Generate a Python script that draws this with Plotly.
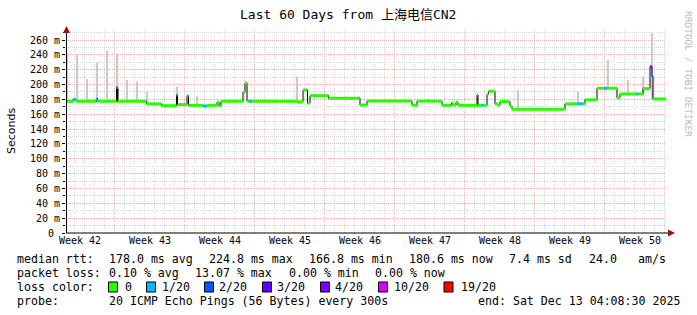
import plotly.graph_objects as go

# ---------------- data ----------------
title_text = "Last 60 Days from 上海电信CN2"
end_day = 60.0

week_labels = ["Week 42", "Week 43", "Week 44", "Week 45", "Week 46",
               "Week 47", "Week 48", "Week 49", "Week 50"]
week_label_day = [1.4, 8.4, 15.4, 22.4, 29.4, 36.4, 43.4, 50.4, 57.4]

y_tick_vals = [0, 20, 40, 60, 80, 100, 120, 140, 160, 180, 200, 220, 240, 260]
y_tick_text = ["0\u00a0", "20 m", "40 m", "60 m", "80 m", "100 m", "120 m", "140 m",
               "160 m", "180 m", "200 m", "220 m", "240 m", "260 m"]

# median rtt (ms) as steps: start day, value, loss-colour index
median_day = [0.0, 0.7, 1.0, 3.0, 3.1, 5.05, 5.2, 8.05, 9.55, 11.05, 11.15, 12.1, 12.25,
              13.7, 14.1, 15.1, 15.3, 15.5, 17.7, 17.9, 18.1, 18.3, 18.6, 23.1, 23.5,
              23.7, 24.15, 24.4, 26.25, 29.3, 29.4, 30.1, 34.6, 35.1, 37.6, 38.55, 38.7,
              39.0, 39.2, 41.1, 41.2, 41.6, 41.7, 42.1, 42.25, 42.9, 43.2, 43.4, 44.4,
              44.6, 49.9, 51.2, 51.7, 51.9, 53.1, 53.8, 54.1, 55.1, 55.4, 57.0, 57.2,
              57.7, 58.4, 58.6, 58.7]
median_val = [177.5, 180, 177.5, 180, 177.5, 196, 177.5, 174, 171.5, 186, 173, 185, 172,
              171, 172, 176, 171, 177.5, 190, 202, 177.5, 177.5, 177.5, 176.5, 177,
              192.7, 175, 185, 181.5, 181.5, 172.5, 177.7, 172.2, 177.7, 172, 175, 172.5,
              176, 172, 186, 172, 172, 172, 187, 191, 174, 172, 177, 171,
              166.7, 174, 174, 174, 179.5, 195, 195, 195, 182, 187.3, 187.3, 187.3,
              194.5, 224, 210.7, 180.6]
median_loss = [0, 1, 0, 1, 0, 1, 0, 0, 0, 0, 0, 0, 0,
               1, 0, 0, 0, 0, 0, 0, 0, 1, 0, 0, 0,
               0, 0, 0, 0, 1, 0, 0, 0, 0, 0, 0, 0,
               0, 0, 1, 0, 1, 0, 0, 0, 0, 0, 0, 0,
               0, 0, 1, 0, 0, 0, 1, 0, 0, 0, 1, 0,
               0, 4, 2, 0]

# light smoke spikes (ms)
smoke_day = [0.07, 1.1, 2.1, 3.1, 4.1, 5.1, 6.1, 7.1, 8.1, 11.1, 13.1, 23.1, 36.2,
             45.2, 51.2, 54.2, 56.2, 57.7, 58.6]
smoke_low = [178, 178, 178, 178, 178, 178, 178, 178, 174, 173, 172, 177, 178,
             167, 174, 195, 187, 187, 180]
smoke_high = [243, 240, 207, 229, 246, 241, 206, 204, 190, 197, 184, 211, 181,
              193, 191, 233, 206, 211, 269]

# dark smoke
dark_day = [5.1, 3.1]
dark_low = [177, 177]
dark_high = [197, 182]

loss_labels = ["0", "1/20", "2/20", "3/20", "4/20", "10/20", "19/20"]
loss_colors = ["#26ff00", "#00b8ff", "#0059ff", "#5e00ff", "#7e00ff", "#dd00ff", "#ff0000"]

legend_rows = [
    [("median rtt:", 16), ("178.0 ms avg", 108), ("224.8 ms max", 208), ("166.8 ms min", 308),
     ("180.6 ms now", 408), ("7.4 ms sd", 508), ("24.0", 588), ("am/s", 637)],
    [("packet loss:", 16), ("0.10 % avg", 108), ("13.07 % max", 194), ("0.00 % min", 288),
     ("0.00 % now", 374)],
    [("loss color:", 16)],
    [("probe:", 16), ("20 ICMP Echo Pings (56 Bytes) every 300s", 108)],
]
legend_row_y = [259, 273, 287, 301]
loss_box_x = [108.5, 146.5, 204.5, 262.5, 320.5, 378.5, 444]
loss_text_x = [124, 161, 218, 276, 334, 393, 460]
end_text = "end: Sat Dec 13 04:08:30 2025"

# ---------------- layout constants ----------------
W, H = 697, 315
L, R, T, B = 66, 31, 30, 82
PW, PH = W - L - R, H - T - B
MONO = "DejaVu Sans Mono"


def px(x):
    return (x - L) / PW


def py(y):
    return (H - B - y) / PH


fig = go.Figure()

# smoke
fig.add_trace(go.Bar(x=smoke_day, base=smoke_low,
                     y=[h - l for h, l in zip(smoke_high, smoke_low)],
                     width=0.12, marker=dict(color="#cacaca", line=dict(width=0)),
                     hoverinfo="skip", showlegend=False))
fig.add_trace(go.Bar(x=dark_day, base=dark_low,
                     y=[h - l for h, l in zip(dark_high, dark_low)],
                     width=0.15, marker=dict(color="#1a1a1a", line=dict(width=0)),
                     hoverinfo="skip", showlegend=False))

# black step line (vertical transitions)
fig.add_trace(go.Scatter(x=median_day + [end_day], y=median_val + [median_val[-1]],
                         mode="lines", line=dict(color="#000000", width=1, shape="hv"),
                         hoverinfo="skip", showlegend=False))

# coloured horizontal median segments by loss
for li, col in enumerate(loss_colors):
    xs, ys = [], []
    for i in range(len(median_day)):
        if median_loss[i] != li:
            continue
        x1 = median_day[i + 1] if i + 1 < len(median_day) else end_day
        xs += [median_day[i], x1, None]
        ys += [median_val[i], median_val[i], None]
    if xs:
        fig.add_trace(go.Scatter(x=xs, y=ys, mode="lines",
                                 line=dict(color=col, width=3),
                                 hoverinfo="skip", showlegend=False))

# dummy trace for week label axis
fig.add_trace(go.Scatter(x=week_label_day, y=[None] * len(week_label_day), xaxis="x2",
                         mode="markers", showlegend=False, hoverinfo="skip"))

grid_gray = "#d6d6d6"
grid_red = "#f0b4b4"

fig.update_layout(
    width=W, height=H, autosize=False,
    margin=dict(l=L, r=R, t=T, b=B, pad=0),
    paper_bgcolor="white", plot_bgcolor="white",
    barmode="overlay", showlegend=False,
    xaxis=dict(range=[0, end_day], showticklabels=False, ticks="",
               showgrid=True, gridcolor=grid_red, griddash="1px,1px", gridwidth=1,
               tickmode="linear", tick0=4.83, dtick=7,
               minor=dict(tickmode="linear", tick0=0.83, dtick=1, showgrid=True,
                          gridcolor=grid_gray, griddash="1px,1px", gridwidth=1),
               zeroline=False, showline=False, fixedrange=True),
    xaxis2=dict(range=[0, end_day], overlaying="x", anchor="y", side="bottom",
                tickmode="array", tickvals=week_label_day, ticktext=week_labels,
                tickfont=dict(family=MONO, size=10, color="#000000"),
                showgrid=False, zeroline=False, showline=False, ticks=""),
    yaxis=dict(range=[0, 273.5], tickmode="array", tickvals=y_tick_vals,
               ticktext=y_tick_text,
               tickfont=dict(family=MONO, size=10, color="#000000"),
               ticks="outside", ticklen=3, tickcolor="#000000", tickwidth=1,
               showgrid=True, gridcolor=grid_red, griddash="1px,1px", gridwidth=1,
               minor=dict(tickmode="linear", tick0=0, dtick=10, showgrid=True,
                          gridcolor=grid_gray, griddash="1px,1px", gridwidth=1,
                          ticks="outside", ticklen=2, tickcolor="#000000"),
               zeroline=False, showline=False, fixedrange=True),
)

shapes = []
# axes lines
shapes.append(dict(type="line", xref="paper", yref="paper", x0=px(66.5), x1=px(66.5),
                   y0=py(233), y1=py(31), line=dict(color="#000000", width=1)))
shapes.append(dict(type="line", xref="paper", yref="paper", x0=px(66), x1=px(669),
                   y0=py(233), y1=py(233), line=dict(color="#000000", width=1)))
# arrows
shapes.append(dict(type="path", xref="paper", yref="paper",
                   path=f"M {px(63)} {py(33)} L {px(70)} {py(33)} L {px(66.5)} {py(26)} Z",
                   fillcolor="#a01010", line=dict(color="#a01010", width=0)))
shapes.append(dict(type="path", xref="paper", yref="paper",
                   path=f"M {px(668)} {py(229.5)} L {px(668)} {py(236.5)} L {px(675)} {py(233)} Z",
                   fillcolor="#a01010", line=dict(color="#a01010", width=0)))
# loss colour boxes
for bx, col in zip(loss_box_x, loss_colors):
    shapes.append(dict(type="rect", xref="paper", yref="paper",
                       x0=px(bx), x1=px(bx + 9), y0=py(292), y1=py(282),
                       fillcolor=col, line=dict(color="#000000", width=1)))
fig.update_layout(shapes=shapes)

ann = []
ann.append(dict(text=title_text, x=px(348), y=py(14), xref="paper", yref="paper",
                xanchor="center", yanchor="middle", showarrow=False,
                font=dict(family=MONO + ", Noto Sans CJK SC", size=13, color="#000000")))
ann.append(dict(text="Seconds", x=px(11), y=py(131), xref="paper", yref="paper",
                xanchor="center", yanchor="middle", showarrow=False, textangle=-90,
                font=dict(family="DejaVu Sans", size=11, color="#000000")))
ann.append(dict(text="RRDTOOL / TOBI OETIKER", x=px(689), y=py(74), xref="paper", yref="paper",
                xanchor="center", yanchor="middle", showarrow=False, textangle=90,
                font=dict(family=MONO, size=9.5, color="#b8b8b8")))
for row, ry in zip(legend_rows, legend_row_y):
    for txt, tx in row:
        ann.append(dict(text=txt, x=px(tx - 1), y=py(ry), xref="paper", yref="paper",
                        xanchor="left", yanchor="middle", showarrow=False,
                        font=dict(family=MONO, size=11.6, color="#000000")))
for lbl, tx in zip(loss_labels, loss_text_x):
    ann.append(dict(text=lbl, x=px(tx - 1), y=py(287), xref="paper", yref="paper",
                    xanchor="left", yanchor="middle", showarrow=False,
                    font=dict(family=MONO, size=11.6, color="#000000")))
ann.append(dict(text=end_text, x=px(682), y=py(301), xref="paper", yref="paper",
                xanchor="right", yanchor="middle", showarrow=False,
                font=dict(family=MONO, size=11.6, color="#000000")))
fig.update_layout(annotations=ann)

fig.write_html("out.html")
